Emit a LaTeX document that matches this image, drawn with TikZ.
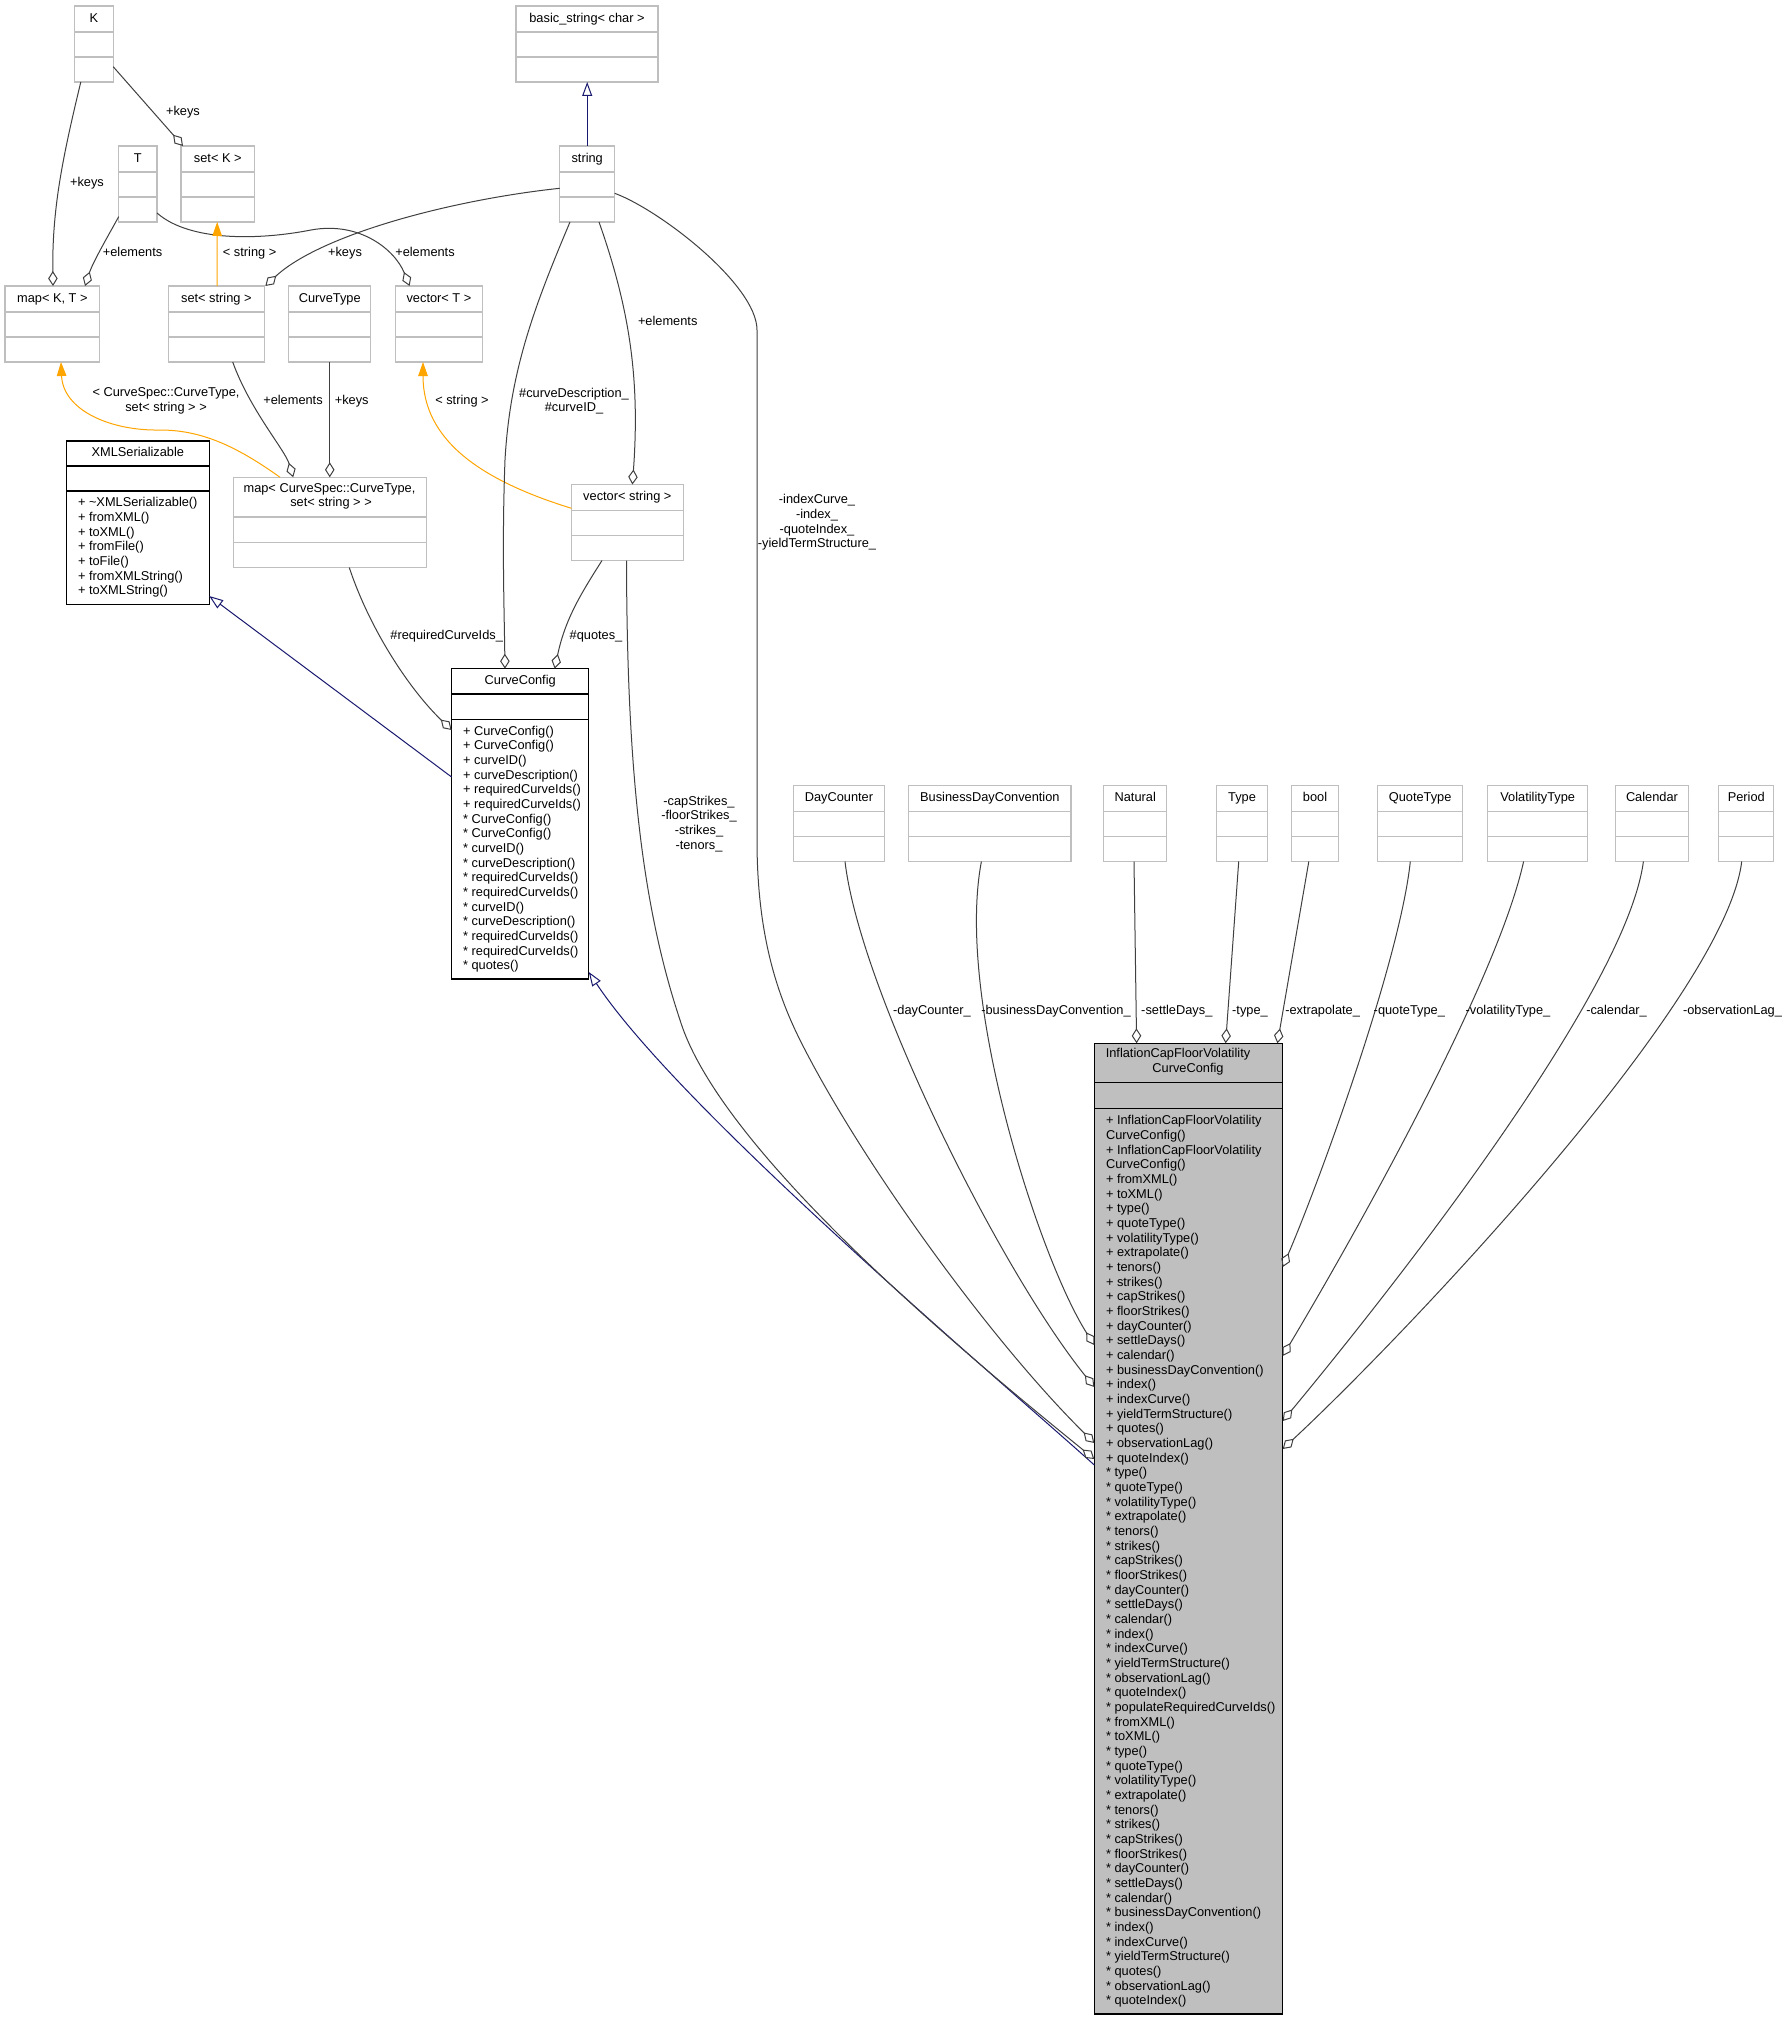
\documentclass[tikz,border=0pt]{standalone}
\usepackage{fontspec}
\setmainfont{Liberation Sans}
\usetikzlibrary{arrows.meta,calc}
\definecolor{boxgray}{HTML}{BFBFBF}
\definecolor{edgegray}{HTML}{404040}
\definecolor{inhblue}{HTML}{191970}
\definecolor{tmplorange}{HTML}{FFA500}
\definecolor{fillgray}{HTML}{BFBFBF}
\tikzset{
  every node/.style={font=\fontsize{12.8}{14.67}\selectfont, inner sep=0pt, outer sep=0pt},
  gbox/.style={draw=boxgray, line width=1.3pt, fill=white, anchor=north west, minimum height=76pt},
  gsep/.style={draw=boxgray, line width=1.3pt},
  kbox/.style={draw=black, line width=1.3pt, anchor=north west},
  ksep/.style={draw=black, line width=1.3pt},
  lbl/.style={text height=9.4pt, text depth=2.8pt},
  mlbl/.style={align=center},
  ops/.style={anchor=north west, align=left},
  agg/.style={draw=edgegray, line width=1pt, -{Diamond[open, length=15pt, width=9.5pt, line width=1pt]}},
  inh/.style={draw=inhblue, line width=1pt, -{Triangle[open, length=14pt, width=10pt, line width=1pt]}},
  tmpl/.style={draw=tmplorange, line width=1pt, -{Triangle[length=14pt, width=9.5pt]}},
}
\newcommand\ebox[5]{%
  \node[gbox, minimum width=#4pt] (#1) at (#2,#3) {};
  \draw[gsep] ([yshift=-26pt]#1.north west) -- ([yshift=-26pt]#1.north east);
  \draw[gsep] ([yshift=-51pt]#1.north west) -- ([yshift=-51pt]#1.north east);
  \node[lbl] (#1-title) at ([yshift=-13pt]#1.north) {#5};
}
\begin{document}
\begin{tikzpicture}[x=1pt,y=-1pt]
\useasboundingbox (0,0) rectangle (1787,2020);
\fill[white] (0,0) rectangle (1787,2020);

% ---------- plain (gray) class boxes ----------
\ebox{K}{74.5}{6}{38.7}{K}
\ebox{bs}{516}{6}{142}{basic\_string< char >}
\ebox{T}{118.7}{146}{38.3}{T}
\ebox{setK}{181}{146}{73.6}{set< K >}
\ebox{str}{559.7}{146}{55}{string}
\ebox{mapKT}{5}{286}{94.7}{map< K, T >}
\ebox{setS}{168.4}{286}{95.9}{set< string >}
\ebox{ct}{288.7}{286}{82.1}{CurveType}
\ebox{vecT}{395.6}{286}{86.7}{vector< T >}
\ebox{vecS}{571.4}{484.5}{111.9}{vector< string >}
\ebox{dc}{793.5}{785.5}{90.9}{DayCounter}
\ebox{bdc}{908.7}{785.5}{162.3}{BusinessDayConvention}
\ebox{nat}{1103.8}{785.5}{62.9}{Natural}
\ebox{typ}{1216.5}{785.5}{51}{Type}
\ebox{boo}{1291.8}{785.5}{46.5}{bool}
\ebox{qt}{1377.6}{785.5}{85.1}{QuoteType}
\ebox{vt}{1487.6}{785.5}{100.2}{VolatilityType}
\ebox{cal}{1615.3}{785.5}{73.3}{Calendar}
\ebox{per}{1718.7}{785.5}{55.1}{Period}

% map< CurveSpec::CurveType, set< string > >
\node[gbox, minimum width=193.2pt, minimum height=90.3pt] (mapCS) at (233.2,477.3) {};
\draw[gsep] ([yshift=-39.8pt]mapCS.north west) -- ([yshift=-39.8pt]mapCS.north east);
\draw[gsep] ([yshift=-65.1pt]mapCS.north west) -- ([yshift=-65.1pt]mapCS.north east);
\node[lbl] (mapCS-t1) at (329.5,488.8) {map< CurveSpec::CurveType,};
\node[lbl] (mapCS-t2) at (331,503.3) {set< string > >};

% ---------- documented boxes ----------
\node[kbox, fill=white, minimum width=142.7pt, minimum height=163.4pt] (xml) at (66.5,441) {};
\draw[ksep] ([yshift=-25pt]xml.north west) -- ([yshift=-25pt]xml.north east);
\draw[ksep] ([yshift=-50pt]xml.north west) -- ([yshift=-50pt]xml.north east);
\node[lbl] (xml-title) at ([yshift=-12.5pt]xml.north) {XMLSerializable};
\node[ops] (xml-ops) at ([xshift=11.5pt,yshift=-55.7pt]xml.north west) {\strut + \textasciitilde XMLSerializable()\\+ fromXML()\\+ toXML()\\+ fromFile()\\+ toFile()\\+ fromXMLString()\\+ toXMLString()};

\node[kbox, fill=white, minimum width=137.2pt, minimum height=310.3pt] (cc) at (451.6,668.7) {};
\draw[ksep] ([yshift=-25.3pt]cc.north west) -- ([yshift=-25.3pt]cc.north east);
\draw[ksep] ([yshift=-50.5pt]cc.north west) -- ([yshift=-50.5pt]cc.north east);
\node[lbl] (cc-title) at ([yshift=-12.3pt]cc.north) {CurveConfig};
\node[ops] (cc-ops) at ([xshift=11.5pt,yshift=-56.2pt]cc.north west) {\strut + CurveConfig()\\+ CurveConfig()\\+ curveID()\\+ curveDescription()\\+ requiredCurveIds()\\+ requiredCurveIds()\\* CurveConfig()\\* CurveConfig()\\* curveID()\\* curveDescription()\\* requiredCurveIds()\\* requiredCurveIds()\\* curveID()\\* curveDescription()\\* requiredCurveIds()\\* requiredCurveIds()\\* quotes()};

\node[kbox, fill=fillgray, minimum width=188.4pt, minimum height=970.7pt] (inf) at (1094.3,1043.3) {};
\draw[ksep] ([yshift=-39.4pt]inf.north west) -- ([yshift=-39.4pt]inf.north east);
\draw[ksep] ([yshift=-65.4pt]inf.north west) -- ([yshift=-65.4pt]inf.north east);
\node[lbl] (inf-t1) at (1178,1054.3) {InflationCapFloorVolatility};
\node[lbl] (inf-t2) at (1188,1069.3) {CurveConfig};
\node[ops] (inf-ops) at ([xshift=11.7pt,yshift=-71.1pt]inf.north west) {\strut + InflationCapFloorVolatility\\CurveConfig()\\+ InflationCapFloorVolatility\\CurveConfig()\\+ fromXML()\\+ toXML()\\+ type()\\+ quoteType()\\+ volatilityType()\\+ extrapolate()\\+ tenors()\\+ strikes()\\+ capStrikes()\\+ floorStrikes()\\+ dayCounter()\\+ settleDays()\\+ calendar()\\+ businessDayConvention()\\+ index()\\+ indexCurve()\\+ yieldTermStructure()\\+ quotes()\\+ observationLag()\\+ quoteIndex()\\* type()\\* quoteType()\\* volatilityType()\\* extrapolate()\\* tenors()\\* strikes()\\* capStrikes()\\* floorStrikes()\\* dayCounter()\\* settleDays()\\* calendar()\\* index()\\* indexCurve()\\* yieldTermStructure()\\* observationLag()\\* quoteIndex()\\* populateRequiredCurveIds()\\* fromXML()\\* toXML()\\* type()\\* quoteType()\\* volatilityType()\\* extrapolate()\\* tenors()\\* strikes()\\* capStrikes()\\* floorStrikes()\\* dayCounter()\\* settleDays()\\* calendar()\\* businessDayConvention()\\* index()\\* indexCurve()\\* yieldTermStructure()\\* quotes()\\* observationLag()\\* quoteIndex()};

% ---------- connectors ----------
\draw[agg] ([yshift=-60.7pt]K.north east) -- ([xshift=2pt]setK.north west);
\node[lbl] (l-k1) at (183,112.7) {+keys};
\draw[agg] ([xshift=6.3pt]K.south west) .. controls (62,160) and (52,210) .. ([xshift=48pt]mapKT.north west);
\node[lbl] (l-k2) at (87,182.7) {+keys};
\draw[agg] ([yshift=-70.7pt]T.north west) .. controls (108,236) and (93,262) .. ([xshift=80pt]mapKT.north west);
\node[lbl] (l-e1) at (132.6,252.7) {+elements};
\draw[agg] ([yshift=-67pt]T.north east) .. controls (190,242) and (260,240) .. (311,230) .. controls (360,221) and (395,250) .. ([xshift=14pt]vecT.north west);
\node[lbl] (l-e2) at (425,252.7) {+elements};
\draw[tmpl] ([xshift=48.6pt]setS.north west) -- ([xshift=36.2pt]setK.south west);
\node[lbl] (l-s1) at (249.6,252.7) {< string >};
\draw[agg] ([yshift=-42.3pt]str.north west) .. controls (450,200) and (320,235) .. ([xshift=1pt]setS.north east);
\node[lbl] (l-k3) at (345,252.7) {+keys};
\draw[agg] (ct.south) -- (ct.south |- mapCS.north);
\node[lbl] (l-k4) at (351.7,400.7) {+keys};
\draw[agg] ([xshift=64.3pt]setS.south west) .. controls (250,410) and (285,450) .. ([xshift=60pt]mapCS.north west);
\node[lbl] (l-e3) at (293,400.7) {+elements};
\draw[tmpl] ([xshift=46.8pt]mapCS.north west) .. controls (235,445) and (200,430) .. (160,430) .. controls (110,431) and (63,410) .. ([xshift=56pt]mapKT.south west);
\node[mlbl] (l-cs) at (166,400.9) {\strut < CurveSpec::CurveType,\\\strut set< string > >};
\draw[tmpl] ([yshift=-23.8pt]vecS.north west) .. controls (480,480) and (423,440) .. ([xshift=27.4pt]vecT.south west);
\node[lbl] (l-s2) at (462,400.7) {< string >};
\draw[inh] (str.north) -- (str.north |- bs.south);
\draw[agg] ([xshift=39.3pt]str.south west) .. controls (630,310) and (640,380) .. ([xshift=61pt]vecS.north west);
\node[lbl] (l-e4) at (667.7,322.6) {+elements};
\draw[agg] ([xshift=10.3pt]str.south west) .. controls (535,305) and (510,370) .. (505,460) .. controls (502,540) and (504,600) .. ([xshift=53.4pt]cc.north west);
\node[mlbl] (l-cd) at (574,401.4) {\strut \#curveDescription\_\\\strut \#curveID\_};
\draw[agg] ([xshift=30.6pt]vecS.south west) .. controls (580,595) and (565,620) .. ([xshift=103.1pt]cc.north west);
\node[lbl] (l-q) at (596,636) {\#quotes\_};
\draw[agg] ([xshift=116.1pt]mapCS.south west) .. controls (370,630) and (410,690) .. ([yshift=-61.3pt]cc.north west);
\node[lbl] (l-rc) at (446.7,636) {\#requiredCurveIds\_};
\draw[inh] ([yshift=-108.3pt]cc.north west) -- ([yshift=8.4pt]xml.south east);
\draw[inh] ([yshift=-421.7pt]inf.north west) .. controls (1000,1380) and (680,1110) .. ([yshift=7pt]cc.south east);
\draw[agg] ([xshift=55.1pt]vecS.south west) .. controls (627,760) and (640,900) .. (680,1020) .. controls (720,1150) and (960,1350) .. ([yshift=-415.7pt]inf.north west);
\node[mlbl] (l-cap) at (699,824.2) {\strut -capStrikes\_\\\strut -floorStrikes\_\\\strut -strikes\_\\\strut -tenors\_};
\draw[agg] ([yshift=-47.3pt]str.north east) .. controls (660,210) and (757,285) .. (757,330) -- (757,840) .. controls (757,930) and (775,990) .. (800,1040) .. controls (860,1160) and (990,1340) .. ([yshift=-399.7pt]inf.north west);
\node[mlbl] (l-idx) at (817,522.8) {\strut -indexCurve\_\\\strut -index\_\\\strut -quoteIndex\_\\\strut -yieldTermStructure\_};
\draw[agg] ([xshift=51.5pt]dc.south west) .. controls (860,990) and (1000,1270) .. ([yshift=-343.7pt]inf.north west);
\node[lbl] (l-dc) at (932,1011) {-dayCounter\_};
\draw[agg] ([xshift=72.7pt]bdc.south west) .. controls (955,1000) and (1040,1260) .. ([yshift=-301.7pt]inf.north west);
\node[lbl] (l-bdc) at (1056,1011) {-businessDayConvention\_};
\draw[agg] ([xshift=30.2pt]nat.south west) -- ([xshift=42.3pt]inf.north west);
\node[lbl] (l-sd) at (1176.8,1011) {-settleDays\_};
\draw[agg] ([xshift=22.2pt]typ.south west) -- ([xshift=131.3pt]inf.north west);
\node[lbl] (l-ty) at (1250,1011) {-type\_};
\draw[agg] ([xshift=17pt]boo.south west) -- ([xshift=183.1pt]inf.north west);
\node[lbl] (l-ex) at (1322.6,1011) {-extrapolate\_};
\draw[agg] ([xshift=32.7pt]qt.south west) .. controls (1400,960) and (1320,1180) .. ([yshift=-223.7pt]inf.north east);
\node[lbl] (l-qt) at (1409.3,1011) {-quoteType\_};
\draw[agg] ([xshift=36pt]vt.south west) .. controls (1495,990) and (1340,1260) .. ([yshift=-312.7pt]inf.north east);
\node[lbl] (l-vt) at (1508,1011) {-volatilityType\_};
\draw[agg] ([xshift=28.1pt]cal.south west) .. controls (1625,1000) and (1365,1321.7) .. ([yshift=-377.7pt]inf.north east);
\node[lbl] (l-cal) at (1616.5,1011) {-calendar\_};
\draw[agg] ([xshift=23pt]per.south west) .. controls (1725,1000) and (1400,1340) .. ([yshift=-405.7pt]inf.north east);
\node[lbl] (l-ol) at (1732.5,1011) {-observationLag\_};
\end{tikzpicture}
\end{document}
